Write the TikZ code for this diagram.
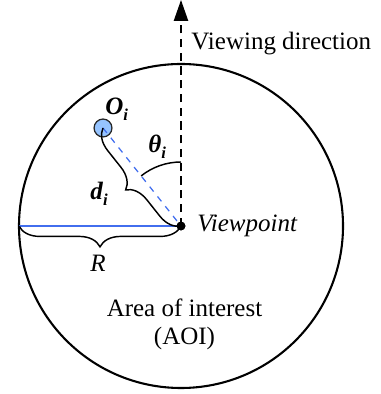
\documentclass[tikz,border=0pt]{standalone}
\usepackage{fontspec}
\setmainfont{Liberation Serif}
\usepackage{tikz}
\usetikzlibrary{arrows.meta,positioning,decorations.pathreplacing}
\definecolor{objblue}{RGB}{150,196,255}
\definecolor{lineblue}{RGB}{66,110,238}
\newcommand{\bvar}[2]{\textbf{\textit{#1}}\raisebox{-0.45ex}{\fontsize{8}{8}\selectfont\textbf{\textit{#2}}}}

\begin{document}
\begin{tikzpicture}[x=0.48pt, y=0.48pt, >=stealth,
    font=\fontsize{12}{13.5}\selectfont,
    dot/.style={circle, fill=black, inner sep=0pt, minimum size=4.2pt},
    obj/.style={circle, draw=black!85, fill=objblue, line width=0.6pt, inner sep=0pt, minimum size=8.6pt},
    brace/.style={decorate, decoration={brace, mirror, amplitude=10pt}, line width=0.7pt},
    dirline/.style={dash pattern=on 4pt off 2.6pt, line width=0.75pt},
    lbl/.style={inner sep=0pt, anchor=base west}]
\useasboundingbox (0,0) rectangle (380,394);
\coordinate (center) at (181,168);
\draw[line width=1pt] (center) circle[radius=162];
\node[obj] (oi) at (103,266) {};
\node[dot] (vp) at (center) {};
\coordinate (top) at (181,394);
\coordinate (edge) at (19,168);
% viewing direction and radius
\draw[dirline, -{Triangle[length=10pt, width=6.8pt]}] (vp.center) -- (top);
\draw[lineblue, line width=0.7pt] (edge) -- (vp.center);
\draw[lineblue, dash pattern=on 3pt off 3pt, line width=0.6pt] (oi.center) -- (vp.center);
\draw[brace] (edge) -- (vp.center);
\draw[brace] (oi.center) -- (vp.center);
\draw[line width=0.7pt] (center) ++(90:64) arc[start angle=90, end angle=128.5, radius=64];
\node[dot] at (center) {};
% labels
\node[lbl] (view) at (191,344) {Viewing direction};
\node[lbl] (vplbl) at (197,162) {\textit{Viewpoint}};
\node[inner sep=0pt, anchor=base] (rlbl) at (98,122) {\textit{R}};
\node[lbl] (theta) at (148,241) {\bvar{θ}{i}};
\node[lbl] (dlbl) at (90,194) {\bvar{d}{i}};
\node[lbl] (olbl) at (105,279) {\bvar{O}{i}};
\node[inner sep=0pt, anchor=base] (aoi) at (184.5,77) {Area of interest};
\node[inner sep=0pt, anchor=base] (aoi2) at (184.5,49) {(AOI)};
\end{tikzpicture}
\end{document}
